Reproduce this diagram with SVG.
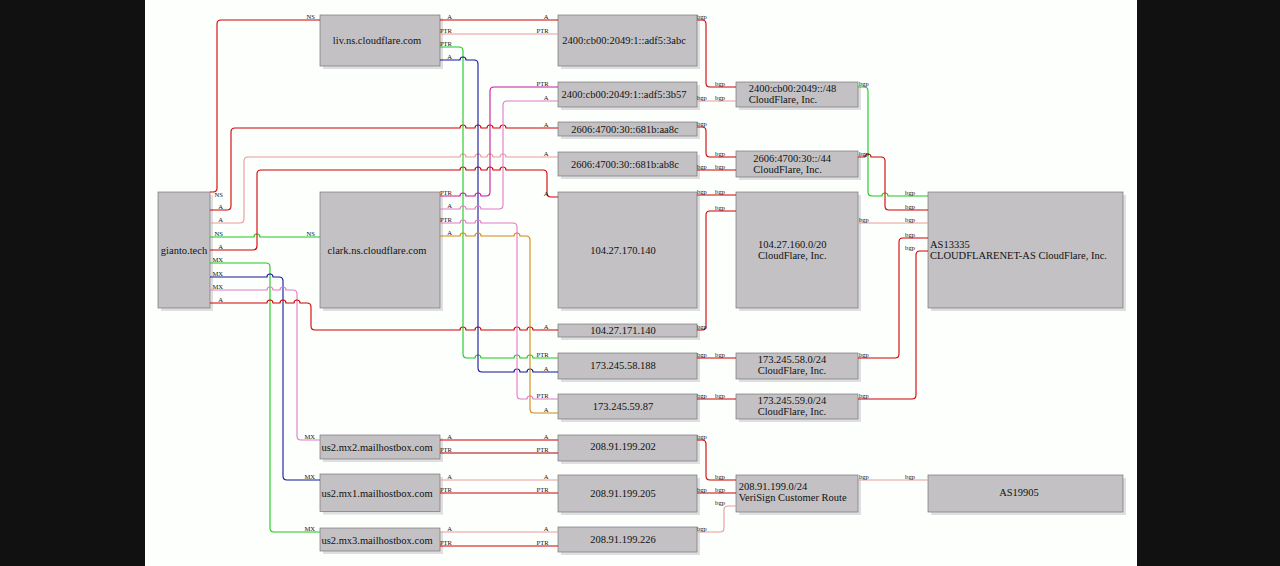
<svg xmlns="http://www.w3.org/2000/svg" width="1280" height="566" viewBox="0 0 1280 566">
<style>
.sh{fill:#dfdee0}
.bx{fill:#c3c1c4;stroke:#767676;stroke-width:0.7}
.t{font-family:"Liberation Serif","Times New Roman",serif;font-size:10.5px;fill:#111}
.m{text-anchor:middle}
.l{font-family:"Liberation Serif","Times New Roman",serif;font-size:6.6px;fill:#111}
.e{text-anchor:end}
path{fill:none;stroke-width:1.1}
.r{stroke:#d20000}
.lr{stroke:#e89b9b}
.dr{stroke:#b00000}
.g{stroke:#1ec81e}
.n{stroke:#14149c}
.mg{stroke:#c8189a}
.pk{stroke:#e07ac8}
.or{stroke:#d08a10}
</style>
<rect x="0" y="0" width="1280" height="566" fill="#111"/>
<rect x="145" y="0" width="992" height="566" fill="#fdfffd"/>

<g id="gianto"><rect class="sh" x="161" y="195" width="52" height="116"/><rect class="bx" x="158" y="192" width="52" height="116"/><text class="t m" x="184" y="253.7">gianto.tech</text></g>
<g id="liv"><rect class="sh" x="323" y="18" width="120" height="51"/><rect class="bx" x="320" y="15" width="120" height="51"/><text class="t m" x="377" y="44.2">liv.ns.cloudflare.com</text></g>
<g id="clark"><rect class="sh" x="323" y="195" width="120" height="116"/><rect class="bx" x="320" y="192" width="120" height="116"/><text class="t m" x="377" y="253.7">clark.ns.cloudflare.com</text></g>
<g id="mx2"><rect class="sh" x="323" y="438" width="120" height="24"/><rect class="bx" x="320" y="435" width="120" height="24"/><text class="t m" x="377" y="450.8">us2.mx2.mailhostbox.com</text></g>
<g id="mx1"><rect class="sh" x="323" y="477" width="120" height="37.5"/><rect class="bx" x="320" y="474" width="120" height="37.5"/><text class="t m" x="377" y="497">us2.mx1.mailhostbox.com</text></g>
<g id="mx3"><rect class="sh" x="323" y="531" width="120" height="23"/><rect class="bx" x="320" y="528" width="120" height="23"/><text class="t m" x="377" y="543.5">us2.mx3.mailhostbox.com</text></g>
<g id="ip-3abc"><rect class="sh" x="561" y="18" width="139" height="51"/><rect class="bx" x="558" y="15" width="139" height="51"/><text class="t m" x="624" y="44.2">2400:cb00:2049:1::adf5:3abc</text></g>
<g id="ip-3b57"><rect class="sh" x="561" y="85" width="139" height="25"/><rect class="bx" x="558" y="82" width="139" height="25"/><text class="t m" x="624" y="97.8">2400:cb00:2049:1::adf5:3b57</text></g>
<g id="ip-aa8c"><rect class="sh" x="561" y="125" width="139" height="14"/><rect class="bx" x="558" y="122" width="139" height="14"/><text class="t m" x="625" y="132.5">2606:4700:30::681b:aa8c</text></g>
<g id="ip-ab8c"><rect class="sh" x="561" y="155" width="139" height="24"/><rect class="bx" x="558" y="152" width="139" height="24"/><text class="t m" x="625" y="167.8">2606:4700:30::681b:ab8c</text></g>
<g id="ip-170"><rect class="sh" x="561" y="195" width="139" height="116"/><rect class="bx" x="558" y="192" width="139" height="116"/><text class="t m" x="623" y="253.7">104.27.170.140</text></g>
<g id="ip-171"><rect class="sh" x="561" y="327" width="139" height="13"/><rect class="bx" x="558" y="324" width="139" height="13"/><text class="t m" x="623" y="334.2">104.27.171.140</text></g>
<g id="ip-58"><rect class="sh" x="561" y="356" width="139" height="26"/><rect class="bx" x="558" y="353" width="139" height="26"/><text class="t m" x="623" y="369.2">173.245.58.188</text></g>
<g id="ip-59"><rect class="sh" x="561" y="397" width="139" height="25"/><rect class="bx" x="558" y="394" width="139" height="25"/><text class="t m" x="623" y="410.2">173.245.59.87</text></g>
<g id="ip-202"><rect class="sh" x="561" y="438" width="139" height="26"/><rect class="bx" x="558" y="435" width="139" height="26"/><text class="t m" x="623" y="450.2">208.91.199.202</text></g>
<g id="ip-205"><rect class="sh" x="561" y="478" width="139" height="37"/><rect class="bx" x="558" y="475" width="139" height="37"/><text class="t m" x="623" y="496.8">208.91.199.205</text></g>
<g id="ip-226"><rect class="sh" x="561" y="530" width="139" height="25"/><rect class="bx" x="558" y="527" width="139" height="25"/><text class="t m" x="623" y="542.8">208.91.199.226</text></g>
<g id="pfx-48"><rect class="sh" x="739" y="85" width="122" height="25"/><rect class="bx" x="736" y="82" width="122" height="25"/><text class="t" x="748.7" y="91.8">2400:cb00:2049::/48</text><text class="t" x="748.7" y="102.5">CloudFlare, Inc.</text></g>
<g id="pfx-44"><rect class="sh" x="739" y="154" width="122" height="26"/><rect class="bx" x="736" y="151" width="122" height="26"/><text class="t" x="753.3" y="161.8">2606:4700:30::/44</text><text class="t" x="753.3" y="172.5">CloudFlare, Inc.</text></g>
<g id="pfx-20"><rect class="sh" x="739" y="195" width="122" height="116"/><rect class="bx" x="736" y="192" width="122" height="116"/><text class="t" x="758" y="248">104.27.160.0/20</text><text class="t" x="758" y="259">CloudFlare, Inc.</text></g>
<g id="pfx-58"><rect class="sh" x="739" y="356" width="122" height="26"/><rect class="bx" x="736" y="353" width="122" height="26"/><text class="t" x="757.7" y="363">173.245.58.0/24</text><text class="t" x="757.7" y="374">CloudFlare, Inc.</text></g>
<g id="pfx-59"><rect class="sh" x="739" y="397" width="122" height="25"/><rect class="bx" x="736" y="394" width="122" height="25"/><text class="t" x="757.7" y="404">173.245.59.0/24</text><text class="t" x="757.7" y="415">CloudFlare, Inc.</text></g>
<g id="pfx-199"><rect class="sh" x="739" y="478" width="122" height="37"/><rect class="bx" x="736" y="475" width="122" height="37"/><text class="t" x="738.7" y="490.2">208.91.199.0/24</text><text class="t" x="738.7" y="501.2">VeriSign Customer Route</text></g>
<g id="as13335"><rect class="sh" x="931" y="195" width="195" height="116"/><rect class="bx" x="928" y="192" width="195" height="116"/><text class="t" x="930" y="247.5">AS13335</text><text class="t" x="930" y="258.8">CLOUDFLARENET-AS CloudFlare, Inc.</text></g>
<g id="as19905"><rect class="sh" x="931" y="478" width="195" height="37"/><rect class="bx" x="928" y="475" width="195" height="37"/><text class="t m" x="1019" y="496.2">AS19905</text></g>

<g id="edges">
<path class="r" d="M210,192 H213 Q217,192 217,188 V24 Q217,20 221,20 H320"/>
<path class="r" d="M210,210 H227 Q231,210 231,206 V132 Q231,128 235,128 H460 a3,3 0 0 1 6,0 H475 a3,3 0 0 1 6,0 H487 a3,3 0 0 1 6,0 H500 a3,3 0 0 1 6,0 H558"/>
<path class="lr" d="M210,223 H240 Q244,223 244,219 V161 Q244,157 248,157 H460 a3,3 0 0 1 6,0 H475 a3,3 0 0 1 6,0 H487 a3,3 0 0 1 6,0 H500 a3,3 0 0 1 6,0 H558"/>
<path class="g" d="M210,237 H254 a3,3 0 0 1 6,0 H320"/>
<path class="r" d="M210,250 H253 Q257,250 257,246 V174 Q257,170 261,170 H460 a3,3 0 0 1 6,0 H475 a3,3 0 0 1 6,0 H487 a3,3 0 0 1 6,0 H500 a3,3 0 0 1 6,0 H543 Q547,170 547,174 V193 Q547,197 551,197 H558"/>
<path class="g" d="M210,263 H266 Q270,263 270,267 V528 Q270,532 274,532 H320"/>
<path class="n" d="M210,277 H267 a3,3 0 0 1 6,0 H279 Q283,277 283,281 V476 Q283,480 287,480 H320"/>
<path class="pk" d="M210,290 H267 a3,3 0 0 1 6,0 H280 a3,3 0 0 1 6,0 H293 Q297,290 297,294 V436 Q297,440 301,440 H320"/>
<path class="r" d="M210,303 H267 a3,3 0 0 1 6,0 H280 a3,3 0 0 1 6,0 H294 a3,3 0 0 1 6,0 H307 Q311,303 311,307 V326 Q311,330 315,330 H460 a3,3 0 0 1 6,0 H475 a3,3 0 0 1 6,0 H514 a3,3 0 0 1 6,0 H527 a3,3 0 0 1 6,0 H558"/>
<path class="r" d="M440,20 H558"/>
<path class="lr" d="M440,34 H558"/>
<path class="g" d="M440,47 H459 Q463,47 463,51 V354 Q463,358 467,358 H475 a3,3 0 0 1 6,0 H514 a3,3 0 0 1 6,0 H527 a3,3 0 0 1 6,0 H558"/>
<path class="n" d="M440,60 H460 a3,3 0 0 1 6,0 H474 Q478,60 478,64 V368 Q478,372 482,372 H514 a3,3 0 0 1 6,0 H527 a3,3 0 0 1 6,0 H558"/>
<path class="mg" d="M440,196 H460 a3,3 0 0 1 6,0 H475 a3,3 0 0 1 6,0 H486 Q490,196 490,192 V91 Q490,87 494,87 H558"/>
<path class="pk" d="M440,209 H460 a3,3 0 0 1 6,0 H475 a3,3 0 0 1 6,0 H499 Q503,209 503,205 V105 Q503,101 507,101 H558"/>
<path class="pk" d="M440,223 H460 a3,3 0 0 1 6,0 H475 a3,3 0 0 1 6,0 H513 Q517,223 517,227 V395 Q517,399 521,399 H527 a3,3 0 0 1 6,0 H558"/>
<path class="or" d="M440,236 H460 a3,3 0 0 1 6,0 H475 a3,3 0 0 1 6,0 H514 a3,3 0 0 1 6,0 H526 Q530,236 530,240 V409 Q530,413 534,413 H558"/>
<path class="r" d="M440,440 H558"/>
<path class="dr" d="M440,453 H558"/>
<path class="lr" d="M440,480 H558"/>
<path class="r" d="M440,493 H558"/>
<path class="lr" d="M440,532 H558"/>
<path class="r" d="M440,546 H558"/>
<path class="r" d="M697,20 H702 Q706,20 706,24 V83 Q706,87 710,87 H736"/>
<path class="lr" d="M697,101 H736"/>
<path class="r" d="M697,127 H702 Q706,127 706,131 V153 Q706,157 710,157 H736"/>
<path class="r" d="M697,170 H736"/>
<path class="r" d="M697,195 H736"/>
<path class="r" d="M697,330 H702 Q706,330 706,326 V215 Q706,211 710,211 H736"/>
<path class="r" d="M697,358 H736"/>
<path class="r" d="M697,399 H736"/>
<path class="r" d="M697,440 H702 Q706,440 706,444 V476 Q706,480 710,480 H736"/>
<path class="r" d="M697,493 H736"/>
<path class="lr" d="M697,532 H720 Q724,532 724,528 V510 Q724,506 728,506 H736"/>
<path class="g" d="M858,87 H864 Q868,87 868,91 V192 Q868,196 872,196 H882 a3,3 0 0 1 6,0 H928"/>
<path class="r" d="M858,157 H865 a3,3 0 0 1 6,0 H881 Q885,157 885,161 V206 Q885,210 889,210 H928"/>
<path class="lr" d="M858,223 H928"/>
<path class="r" d="M858,358 H895 Q899,358 899,354 V242 Q899,238 903,238 H928"/>
<path class="r" d="M858,399 H912 Q916,399 916,395 V255 Q916,251 920,251 H928"/>
<path class="lr" d="M858,480 H928"/>
</g>

<g id="edge-labels">
<text class="l e" x="223" y="196.5">NS</text>
<text class="l e" x="223" y="208.5">A</text>
<text class="l e" x="223" y="221.5">A</text>
<text class="l e" x="223" y="235.5">NS</text>
<text class="l e" x="223" y="248.5">A</text>
<text class="l e" x="223" y="261.5">MX</text>
<text class="l e" x="223" y="275.5">MX</text>
<text class="l e" x="223" y="288.5">MX</text>
<text class="l e" x="223" y="301.5">A</text>
<text class="l e" x="315" y="18.5">NS</text>
<text class="l e" x="315" y="235.5">NS</text>
<text class="l e" x="315" y="438.5">MX</text>
<text class="l e" x="315" y="478.5">MX</text>
<text class="l e" x="315" y="530.5">MX</text>
<text class="l e" x="452" y="18.5">A</text>
<text class="l e" x="452" y="32.5">PTR</text>
<text class="l e" x="452" y="45.5">PTR</text>
<text class="l e" x="452" y="58.5">A</text>
<text class="l e" x="452" y="194.5">PTR</text>
<text class="l e" x="452" y="207.5">A</text>
<text class="l e" x="452" y="221.5">PTR</text>
<text class="l e" x="452" y="234.5">A</text>
<text class="l e" x="452" y="438.5">A</text>
<text class="l e" x="452" y="451.5">PTR</text>
<text class="l e" x="452" y="478.5">A</text>
<text class="l e" x="452" y="491.5">PTR</text>
<text class="l e" x="452" y="530.5">A</text>
<text class="l e" x="452" y="544.5">PTR</text>
<text class="l e" x="548.6" y="18.5">A</text>
<text class="l e" x="548.6" y="32.5">PTR</text>
<text class="l e" x="548.6" y="85.5">PTR</text>
<text class="l e" x="548.6" y="99.5">A</text>
<text class="l e" x="548.6" y="126.5">A</text>
<text class="l e" x="548.6" y="155.5">A</text>
<text class="l e" x="548.6" y="196">A</text>
<text class="l e" x="548.6" y="328.5">A</text>
<text class="l e" x="548.6" y="356.5">PTR</text>
<text class="l e" x="548.6" y="370.5">A</text>
<text class="l e" x="548.6" y="397.5">PTR</text>
<text class="l e" x="548.6" y="411.5">A</text>
<text class="l e" x="548.6" y="438.5">A</text>
<text class="l e" x="548.6" y="451.5">PTR</text>
<text class="l e" x="548.6" y="478.5">A</text>
<text class="l e" x="548.6" y="491.5">PTR</text>
<text class="l e" x="548.6" y="530.5">A</text>
<text class="l e" x="548.6" y="544.5">PTR</text>
<text class="l" x="697" y="18.5">bgp</text>
<text class="l" x="697" y="99.5">bgp</text>
<text class="l" x="697" y="125.5">bgp</text>
<text class="l" x="697" y="168.5">bgp</text>
<text class="l" x="697" y="193.5">bgp</text>
<text class="l" x="697" y="328.5">bgp</text>
<text class="l" x="697" y="356.5">bgp</text>
<text class="l" x="697" y="397.5">bgp</text>
<text class="l" x="697" y="438.5">bgp</text>
<text class="l" x="697" y="491.5">bgp</text>
<text class="l" x="697" y="530.5">bgp</text>
<text class="l e" x="725" y="85.5">bgp</text>
<text class="l e" x="725" y="99.5">bgp</text>
<text class="l e" x="725" y="155.5">bgp</text>
<text class="l e" x="725" y="168.5">bgp</text>
<text class="l e" x="725" y="193.5">bgp</text>
<text class="l e" x="725" y="209.5">bgp</text>
<text class="l e" x="725" y="356.5">bgp</text>
<text class="l e" x="725" y="397.5">bgp</text>
<text class="l e" x="725" y="478.5">bgp</text>
<text class="l e" x="725" y="491.5">bgp</text>
<text class="l e" x="725" y="504.5">bgp</text>
<text class="l" x="859" y="85.5">bgp</text>
<text class="l" x="859" y="155.5">bgp</text>
<text class="l" x="859" y="221.5">bgp</text>
<text class="l" x="859" y="356.5">bgp</text>
<text class="l" x="859" y="397.5">bgp</text>
<text class="l" x="859" y="478.5">bgp</text>
<text class="l e" x="915" y="194.5">bgp</text>
<text class="l e" x="915" y="208.5">bgp</text>
<text class="l e" x="915" y="221.5">bgp</text>
<text class="l e" x="915" y="236.5">bgp</text>
<text class="l e" x="915" y="249.5">bgp</text>
<text class="l e" x="915" y="478.5">bgp</text>
</g>
</svg>
